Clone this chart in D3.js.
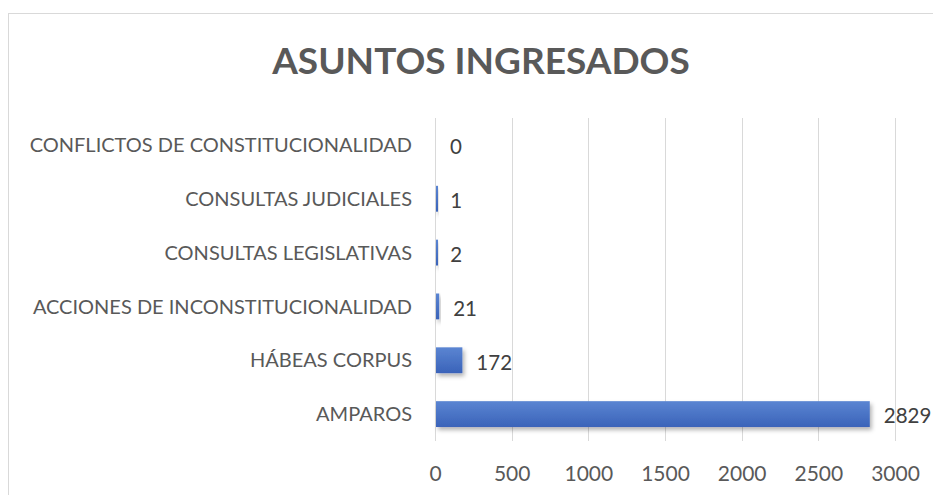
<!DOCTYPE html>
<html><head><meta charset="utf-8">
<script src="https://cdn.jsdelivr.net/npm/d3@7"></script>
<style>
html,body{margin:0;padding:0;background:#fff;}
svg{display:block;}
text{font-family:Lato,"Open Sans",sans-serif;}
</style></head>
<body>
<script>
const categories = ["CONFLICTOS DE CONSTITUCIONALIDAD","CONSULTAS JUDICIALES","CONSULTAS LEGISLATIVAS","ACCIONES DE INCONSTITUCIONALIDAD","HÁBEAS CORPUS","AMPAROS"];
const values = [0, 1, 2, 21, 172, 2829];
const xTicks = [0, 500, 1000, 1500, 2000, 2500, 3000];
const title = "ASUNTOS INGRESADOS";

const W = 933, H = 495;
const svg = d3.select("body").append("svg").attr("width", W).attr("height", H);
const defs = svg.append("defs");
const grad = defs.append("linearGradient").attr("id","barGrad").attr("x1",0).attr("y1",0).attr("x2",0).attr("y2",1);
grad.append("stop").attr("offset","0%").attr("stop-color","#5b85d2");
grad.append("stop").attr("offset","100%").attr("stop-color","#3a63b9");
const filt = defs.append("filter").attr("id","shadow").attr("x","-50%").attr("y","-30%").attr("width","200%").attr("height","180%");
filt.append("feDropShadow").attr("dx",2).attr("dy",3).attr("stdDeviation",2).attr("flood-color","#000").attr("flood-opacity",0.3);

// chart frame
svg.append("rect").attr("x",8.5).attr("y",13.5).attr("width",W+20).attr("height",H+20)
  .attr("fill","#fff").attr("stroke","#d9d9d9").attr("stroke-width",1);

// title
svg.append("text").attr("x",481).attr("y",74).attr("text-anchor","middle")
  .attr("font-size",37).attr("font-weight",700).attr("fill","#595959").text(title);

const m = {left:435, right:895, top:118, bottom:441};
const x = d3.scaleLinear().domain([0,3000]).range([m.left, m.right]);
const y = d3.scaleBand().domain(categories).range([m.top, m.bottom]).paddingInner(0.52).paddingOuter(0.26);

// gridlines
svg.append("g").selectAll("line").data(xTicks).join("line")
  .attr("x1", d=>Math.round(x(d))+0.5).attr("x2", d=>Math.round(x(d))+0.5)
  .attr("y1", m.top).attr("y2", m.bottom).attr("stroke","#d9d9d9").attr("stroke-width",1);

// x axis labels
const xAxis = d3.axisBottom(x).tickValues(xTicks).tickSize(0).tickPadding(0).tickFormat(d3.format("d"));
const gx = svg.append("g").attr("transform",`translate(0,473)`).call(xAxis);
gx.select(".domain").remove();
gx.selectAll("text").attr("font-size",21).attr("fill","#595959").attr("font-family","Lato, 'Open Sans', sans-serif").attr("dy","0.36em");

// y axis labels
const yAxis = d3.axisLeft(y).tickSize(0).tickPadding(23);
const gy = svg.append("g").attr("transform",`translate(${m.left},0)`).call(yAxis);
gy.select(".domain").remove();
gy.selectAll("text").attr("font-size",20).attr("fill","#595959").attr("font-family","Lato, 'Open Sans', sans-serif").attr("dy","0.36em");

// bars
svg.append("g").selectAll("rect").data(values).join("rect")
  .attr("x", x(0)+1).attr("y",(d,i)=>y(categories[i]))
  .attr("width", d=> d>0 ? Math.max(2, x(d)-x(0)) : 0)
  .attr("height", y.bandwidth())
  .attr("fill","url(#barGrad)").attr("filter","url(#shadow)");

// value labels
svg.append("g").selectAll("text").data(values).join("text")
  .attr("x", d=>x(d)+15).attr("y",(d,i)=>y(categories[i])+y.bandwidth()/2+2)
  .attr("dy","0.36em").attr("font-size",20.5).attr("fill","#404040").text(d=>d);
</script>
</body></html>
